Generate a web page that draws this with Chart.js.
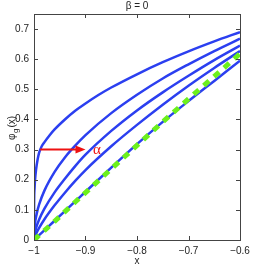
<!DOCTYPE html>
<html>
<head>
<meta charset="utf-8">
<script src="https://cdn.jsdelivr.net/npm/chart.js@4/dist/chart.umd.min.js"></script>
<style>
  html, body { margin: 0; padding: 0; background: #fff; }
  #wrap { width: 265px; height: 278px; }
</style>
</head>
<body>
<div id="wrap"><canvas id="chart1" width="265" height="278"></canvas></div>
<script>
// x positions: fine grid for the steep top curve, common grid for the rest
const xFine = [-1, -0.9998, -0.999, -0.998, -0.996, -0.993, -0.99, -0.985, -0.98, -0.97, -0.96, -0.94, -0.92, -0.9, -0.875, -0.85, -0.8, -0.75, -0.7, -0.65, -0.6];
const xCommon = [-1, -0.998, -0.995, -0.99, -0.98, -0.96, -0.94, -0.92, -0.9, -0.85, -0.8, -0.75, -0.7, -0.65, -0.6];

const curve1 = [0, 0.116, 0.169, 0.199, 0.234, 0.267, 0.29, 0.311, 0.324, 0.347, 0.367, 0.4, 0.429, 0.453, 0.481, 0.506, 0.55, 0.59, 0.626, 0.659, 0.69];
const curve2 = [0, 0.055, 0.085, 0.118, 0.163, 0.226, 0.274, 0.313, 0.348, 0.421, 0.482, 0.536, 0.583, 0.627, 0.668];
const curve3 = [0, 0.025, 0.045, 0.068, 0.103, 0.158, 0.203, 0.245, 0.283, 0.362, 0.43, 0.49, 0.545, 0.597, 0.645];
const curve4 = [0, 0.012, 0.024, 0.04, 0.068, 0.115, 0.157, 0.196, 0.232, 0.311, 0.382, 0.449, 0.512, 0.571, 0.627];
const curve5 = [0, 0.003, 0.008, 0.016, 0.032, 0.064, 0.096, 0.128, 0.16, 0.24, 0.318, 0.392, 0.461, 0.528, 0.595];
const limitCurve = [0, 0.003, 0.008, 0.016, 0.031, 0.062, 0.094, 0.126, 0.157, 0.236, 0.314, 0.392, 0.468, 0.543, 0.618];

const xTicks = [-1, -0.9, -0.8, -0.7, -0.6];
const yTicks = [0, 0.1, 0.2, 0.3, 0.4, 0.5, 0.6, 0.7];

// arrow for alpha, in data units
const arrowFrom = [-0.988, 0.3];
const arrowTo = [-0.9, 0.3];
const alphaAt = [-0.878, 0.3];

const blue = '#2b3ff0';
const green = '#6cf01c';
const red = '#ee1111';
const txt = '#222';
const fontName = '"Liberation Sans", Arial, sans-serif';

function pts(xs, ys) {
  return xs.map((x, i) => ({ x: x, y: ys[i] }));
}

function blueLine(xs, ys) {
  return { data: pts(xs, ys), borderColor: blue, borderWidth: 2.5, pointRadius: 0, showLine: true, cubicInterpolationMode: 'monotone' };
}

const frame = {
  id: 'frame',
  afterDraw(chart) {
    const ctx = chart.ctx;
    const a = chart.chartArea;
    const xs = chart.scales.x, ys = chart.scales.y;
    ctx.save();
    ctx.strokeStyle = '#444';
    ctx.lineWidth = 1;
    ctx.strokeRect(a.left + 0.5, a.top + 0.5, a.right - a.left, a.bottom - a.top);
    ctx.beginPath();
    xTicks.forEach(v => {
      const px = Math.round(xs.getPixelForValue(v)) + 0.5;
      ctx.moveTo(px, a.bottom); ctx.lineTo(px, a.bottom - 4);
      ctx.moveTo(px, a.top); ctx.lineTo(px, a.top + 4);
    });
    yTicks.forEach(v => {
      const py = Math.round(ys.getPixelForValue(v)) + 0.5;
      ctx.moveTo(a.left, py); ctx.lineTo(a.left + 4, py);
      ctx.moveTo(a.right, py); ctx.lineTo(a.right - 4, py);
    });
    ctx.stroke();

    // title
    ctx.fillStyle = txt;
    ctx.font = '10px ' + fontName;
    ctx.textAlign = 'center';
    ctx.textBaseline = 'middle';
    ctx.fillText('β = 0', (a.left + a.right) / 2, 6);
    // x label
    ctx.fillText('x', (a.left + a.right) / 2, 261);

    // y label with subscript
    ctx.save();
    ctx.translate(12, 128);
    ctx.rotate(-Math.PI / 2);
    ctx.textAlign = 'left';
    ctx.textBaseline = 'middle';
    const w1 = ctx.measureText('φ').width;
    const total = w1 + 6 + ctx.measureText('(x)').width;
    const sx = -total / 2;
    ctx.fillText('φ', sx, 0);
    ctx.font = '8px ' + fontName;
    ctx.fillText('g', sx + w1 + 0.5, 4);
    ctx.font = '10px ' + fontName;
    ctx.fillText('(x)', sx + w1 + 6, 0);
    ctx.restore();

    // arrow and alpha
    const x0 = xs.getPixelForValue(arrowFrom[0]), y0 = ys.getPixelForValue(arrowFrom[1]);
    const x1 = xs.getPixelForValue(arrowTo[0]), y1 = ys.getPixelForValue(arrowTo[1]);
    ctx.strokeStyle = red;
    ctx.fillStyle = red;
    ctx.lineWidth = 2;
    ctx.beginPath();
    ctx.moveTo(x0, y0); ctx.lineTo(x1 - 8, y1);
    ctx.stroke();
    ctx.beginPath();
    ctx.moveTo(x1, y1); ctx.lineTo(x1 - 10, y1 - 4); ctx.lineTo(x1 - 10, y1 + 4);
    ctx.closePath();
    ctx.fill();
    ctx.font = '15px "Liberation Serif", "DejaVu Serif", serif';
    ctx.textAlign = 'center';
    ctx.textBaseline = 'middle';
    ctx.fillText('α', xs.getPixelForValue(alphaAt[0]), ys.getPixelForValue(alphaAt[1]));
    ctx.restore();
  }
};

const data = {
  datasets: [
    { data: pts(xCommon, limitCurve), borderColor: green, borderWidth: 5, borderDash: [7, 6.5], pointRadius: 0, showLine: true },
    blueLine(xFine, curve1),
    blueLine(xCommon, curve2),
    blueLine(xCommon, curve3),
    blueLine(xCommon, curve4),
    blueLine(xCommon, curve5)
  ]
};

const config = {
  type: 'scatter',
  data,
  options: {
    responsive: false,
    animation: false,
    events: [],
    layout: { padding: { left: 0, right: 25, top: 14, bottom: 0 } },
    plugins: { legend: { display: false }, title: { display: false }, tooltip: { enabled: false } },
    scales: {
      x: {
        type: 'linear', min: -1, max: -0.6,
        afterBuildTicks: s => { s.ticks = xTicks.map(v => ({ value: v })); },
        afterFit: s => { s.height = 38; },
        grid: { display: false, drawTicks: false },
        border: { display: false },
        ticks: { padding: 5, color: txt, font: { size: 10, family: fontName }, maxRotation: 0,
          callback: v => (v < 0 ? '\u2212' + Math.abs(v) : String(v)) }
      },
      y: {
        type: 'linear', min: 0, max: 0.75,
        afterBuildTicks: s => { s.ticks = yTicks.map(v => ({ value: v })); },
        afterFit: s => { s.width = 34; },
        grid: { display: false, drawTicks: false },
        border: { display: false },
        ticks: { padding: 5, color: txt, font: { size: 10, family: fontName },
          callback: v => String(v) }
      }
    }
  },
  plugins: [frame]
};

const myChart = new Chart(document.getElementById('chart1'), config);
</script>
</body>
</html>
